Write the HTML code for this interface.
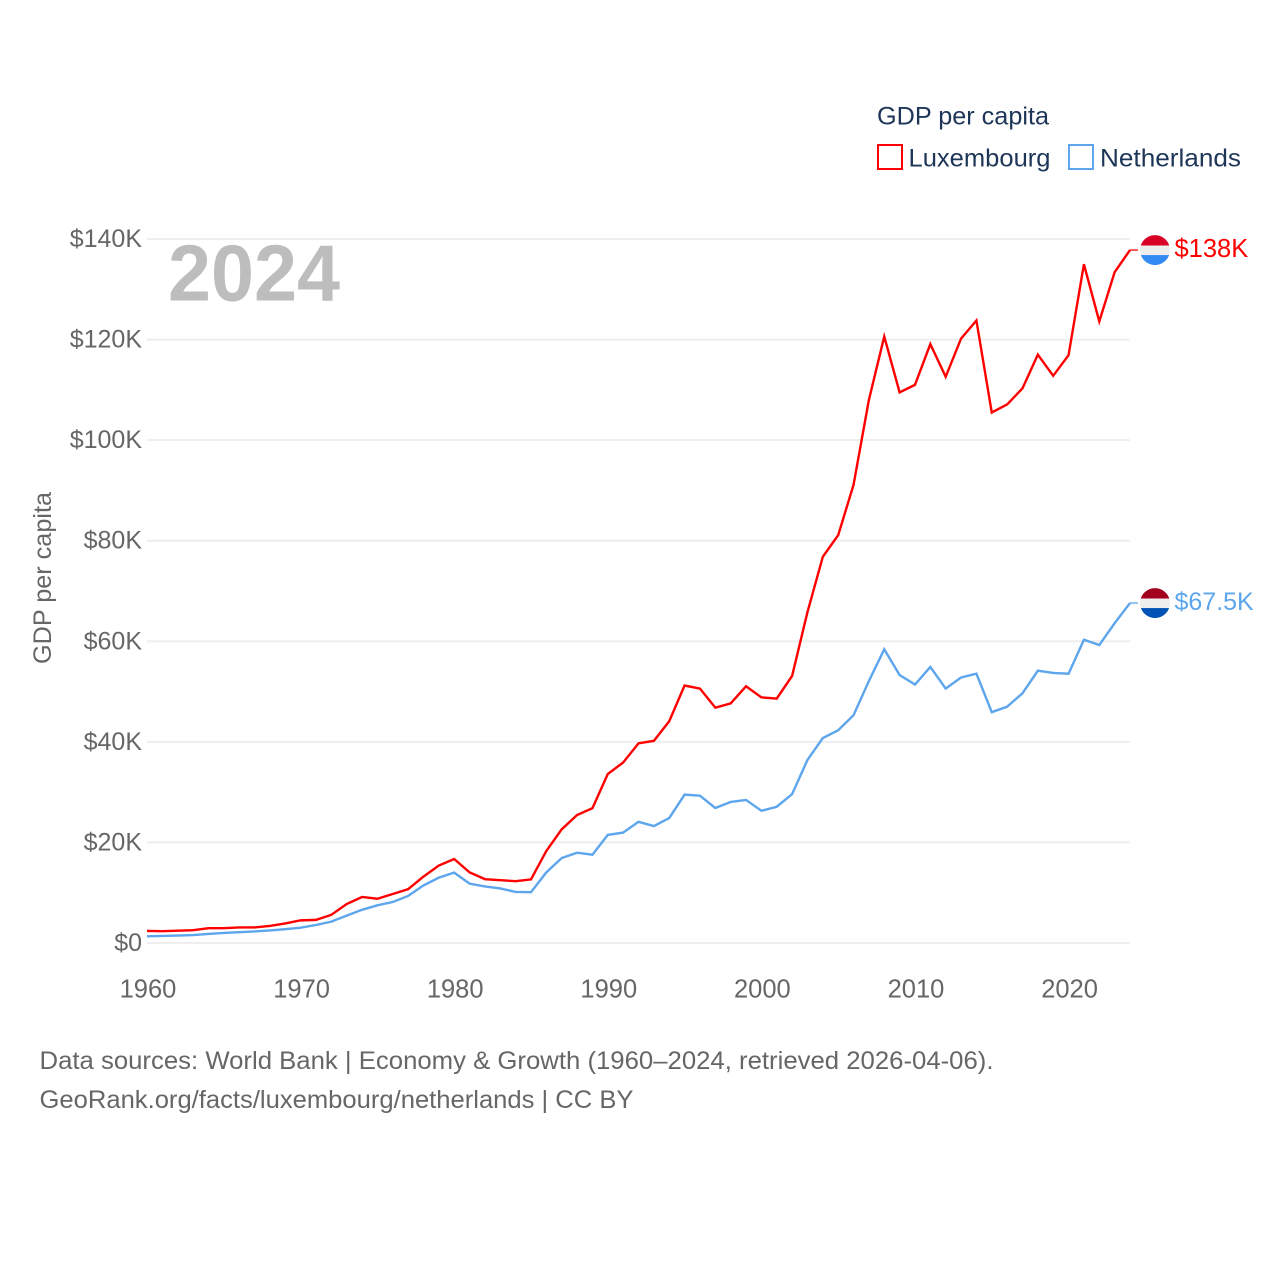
<!DOCTYPE html>
<html lang="en">
<head>
<meta charset="utf-8">
<title>GDP per capita: Luxembourg and Netherlands</title>
<style>
  html, body { margin: 0; padding: 0; background: #ffffff; }
  #chart { display: block; width: 1280px; height: 1280px; font-family: "Liberation Sans", sans-serif; }
  .tick { font-size: 25px; fill: #666666; }
  .xtick { font-size: 25.5px; fill: #666666; }
  .legend { font-size: 25px; fill: #1d3557; }
  .foot { font-size: 25px; fill: #666666; }
</style>
</head>
<body>
<svg id="chart" xmlns="http://www.w3.org/2000/svg" width="1280" height="1280" viewBox="0 0 1280 1280">
  <rect x="0" y="0" width="1280" height="1280" fill="#ffffff"/>
  <defs>
    <clipPath id="flag-clip-lu"><circle id="flag-circle-lu" cx="1155" cy="250" r="15"/></clipPath>
    <clipPath id="flag-clip-nl"><circle id="flag-circle-nl" cx="1155" cy="603" r="15"/></clipPath>
  </defs>
  <g id="grid"></g>
  <g id="y-ticks"></g>
  <g id="x-ticks"></g>
  <text x="168" y="300.5" font-size="80" font-weight="700" fill="#bdbdbd" textLength="172" lengthAdjust="spacingAndGlyphs">2024</text>
  <text class="tick" transform="translate(51,664) rotate(-90)" textLength="172" lengthAdjust="spacingAndGlyphs">GDP per capita</text>
  <g id="series"></g>
  <g id="flags"></g>
  <g>
    <text class="legend" x="877" y="124.5" textLength="172" lengthAdjust="spacingAndGlyphs">GDP per capita</text>
    <rect x="878" y="145" width="24" height="24" fill="none" stroke="#ff0000" stroke-width="2"/>
    <text class="legend" x="908.5" y="166.5" textLength="142" lengthAdjust="spacingAndGlyphs">Luxembourg</text>
    <rect x="1069" y="145" width="24" height="24" fill="none" stroke="#5da5ec" stroke-width="2"/>
    <text class="legend" x="1100" y="166.5" textLength="141" lengthAdjust="spacingAndGlyphs">Netherlands</text>
  </g>
  <text class="foot" x="39.5" y="1069" textLength="954" lengthAdjust="spacingAndGlyphs">Data sources: World Bank | Economy &amp; Growth (1960–2024, retrieved 2026-04-06).</text>
  <text class="foot" x="39.5" y="1108" textLength="594" lengthAdjust="spacingAndGlyphs">GeoRank.org/facts/luxembourg/netherlands | CC BY</text>
</svg>
<script>
const startYear = 1960;
const luxembourgValues = [
  2.4, 2.35, 2.45, 2.55, 2.95, 2.95, 3.1, 3.1, 3.4, 3.9,
  4.5, 4.6, 5.6, 7.75, 9.15, 8.8, 9.74, 10.7, 13.2, 15.4,
  16.7, 14.05, 12.7, 12.5, 12.3, 12.65, 18.3, 22.6, 25.45, 26.8,
  33.6, 35.9, 39.7, 40.2, 44.1, 51.2, 50.6, 46.8, 47.65, 51.05,
  48.85, 48.6, 53.1, 65.8, 76.8, 81.1, 91.1, 108.0, 120.6, 109.5,
  111, 119.1, 112.6, 120.2, 123.8, 105.5, 107.1, 110.3, 117, 112.8,
  116.9, 135, 123.6, 133.4, 137.8
];
const netherlandsValues = [
  1.33, 1.4, 1.48, 1.58, 1.8, 2.0, 2.15, 2.3, 2.5, 2.75,
  3.05, 3.58, 4.25, 5.45, 6.6, 7.5, 8.15, 9.35, 11.45, 13,
  14, 11.8, 11.25, 10.85, 10.15, 10.1, 14.05, 16.9, 17.95, 17.55,
  21.5, 21.95, 24.1, 23.25, 24.85, 29.5, 29.3, 26.85, 28.05, 28.45,
  26.3, 27.1, 29.6, 36.4, 40.75, 42.3, 45.3, 52.1, 58.4, 53.3,
  51.4, 54.9, 50.6, 52.8, 53.55, 45.9, 47, 49.65, 54.15, 53.7,
  53.55, 60.3, 59.25, 63.6, 67.6
];
const yTickValues = [0, 20, 40, 60, 80, 100, 120, 140];
const yTickLabels = ["$0", "$20K", "$40K", "$60K", "$80K", "$100K", "$120K", "$140K"];
const xTickValues = [1960, 1970, 1980, 1990, 2000, 2010, 2020];
const endLabelLuxembourg = "$138K";
const endLabelNetherlands = "$67.5K";

const NS = "http://www.w3.org/2000/svg";
const xScale = function (year) { return 147 + (year - 1960) * (983 / 64); };
const yScale = function (v) { return 943 - v * (704 / 140); };

const grid = document.getElementById("grid");
const yTicks = document.getElementById("y-ticks");
const xTicks = document.getElementById("x-ticks");
const seriesGroup = document.getElementById("series");
const flagsGroup = document.getElementById("flags");

yTickValues.forEach(function (v, i) {
  const line = document.createElementNS(NS, "line");
  line.setAttribute("x1", xScale(1960));
  line.setAttribute("x2", xScale(2024));
  line.setAttribute("y1", yScale(v));
  line.setAttribute("y2", yScale(v));
  line.setAttribute("stroke", "#eeeeee");
  line.setAttribute("stroke-width", "2");
  
  
  grid.appendChild(line);

  const label = document.createElementNS(NS, "text");
  label.setAttribute("x", 142);
  label.setAttribute("y", yScale(v) + 8);
  label.setAttribute("text-anchor", "end");
  label.setAttribute("class", "tick");
  label.textContent = yTickLabels[i];
  
  
  yTicks.appendChild(label);
});

xTickValues.forEach(function (year) {
  const label = document.createElementNS(NS, "text");
  label.setAttribute("x", xScale(year) + 1);
  label.setAttribute("y", 997.5);
  label.setAttribute("text-anchor", "middle");
  label.setAttribute("class", "xtick");
  label.textContent = String(year);
  
  
  xTicks.appendChild(label);
});

function pointsFor(values) {
  return values.map(function (v, i) {
    return xScale(startYear + i).toFixed(2) + "," + yScale(v).toFixed(2);
  }).join(" ");
}

function lastYear(values) { return startYear + values.length - 1; }

const lineLu = document.createElementNS(NS, "polyline");
lineLu.setAttribute("points", pointsFor(luxembourgValues));
lineLu.setAttribute("fill", "none");
lineLu.setAttribute("stroke", "#ff0000");
lineLu.setAttribute("stroke-width", "2.4");
lineLu.setAttribute("stroke-linejoin", "miter");


seriesGroup.appendChild(lineLu);

const lineNl = document.createElementNS(NS, "polyline");
lineNl.setAttribute("points", pointsFor(netherlandsValues));
lineNl.setAttribute("fill", "none");
lineNl.setAttribute("stroke", "#5da5ec");
lineNl.setAttribute("stroke-width", "2.4");
lineNl.setAttribute("stroke-linejoin", "miter");


seriesGroup.appendChild(lineNl);

const stubLu = document.createElementNS(NS, "line");
const luLastX = xScale(lastYear(luxembourgValues));
const luLastY = yScale(luxembourgValues[luxembourgValues.length - 1]);
stubLu.setAttribute("x1", luLastX);
stubLu.setAttribute("x2", luLastX + 8);
stubLu.setAttribute("y1", luLastY);
stubLu.setAttribute("y2", luLastY);
stubLu.setAttribute("stroke", "#ff0000");
stubLu.setAttribute("stroke-width", "2");
stubLu.setAttribute("opacity", "0.65");


seriesGroup.appendChild(stubLu);

const stubNl = document.createElementNS(NS, "line");
const nlLastX = xScale(lastYear(netherlandsValues));
const nlLastY = yScale(netherlandsValues[netherlandsValues.length - 1]);
stubNl.setAttribute("x1", nlLastX);
stubNl.setAttribute("x2", nlLastX + 8);
stubNl.setAttribute("y1", nlLastY);
stubNl.setAttribute("y2", nlLastY);
stubNl.setAttribute("stroke", "#5da5ec");
stubNl.setAttribute("stroke-width", "2");
stubNl.setAttribute("opacity", "0.65");


seriesGroup.appendChild(stubNl);

function addStripe(parent, clipId, cy, offset, h, color) {
  const r = document.createElementNS(NS, "rect");
  r.setAttribute("x", 1140);
  r.setAttribute("y", cy + offset);
  r.setAttribute("width", 30);
  r.setAttribute("height", h);
  r.setAttribute("fill", color);
  r.setAttribute("clip-path", "url(#" + clipId + ")");
  
  
  parent.appendChild(r);
}

const flagLu = document.createElementNS(NS, "g");


flagsGroup.appendChild(flagLu);
document.getElementById("flag-circle-lu").setAttribute("cy", luLastY);
addStripe(flagLu, "flag-clip-lu", luLastY, -15, 10.5, "#d80027");
addStripe(flagLu, "flag-clip-lu", luLastY, -4.5, 9.5, "#eeeeee");
addStripe(flagLu, "flag-clip-lu", luLastY, 5, 10, "#338af3");

const flagNl = document.createElementNS(NS, "g");


flagsGroup.appendChild(flagNl);
document.getElementById("flag-circle-nl").setAttribute("cy", nlLastY);
addStripe(flagNl, "flag-clip-nl", nlLastY, -15, 10.5, "#a2001d");
addStripe(flagNl, "flag-clip-nl", nlLastY, -4.5, 9.5, "#eeeeee");
addStripe(flagNl, "flag-clip-nl", nlLastY, 5, 10, "#0052b4");

const endLu = document.createElementNS(NS, "text");
endLu.setAttribute("x", 1174.5);
endLu.setAttribute("y", luLastY + 7);
endLu.setAttribute("font-size", "25.5");
endLu.setAttribute("fill", "#ff0000");
endLu.textContent = endLabelLuxembourg;


flagsGroup.appendChild(endLu);

const endNl = document.createElementNS(NS, "text");
endNl.setAttribute("x", 1174.5);
endNl.setAttribute("y", nlLastY + 7);
endNl.setAttribute("font-size", "25");
endNl.setAttribute("fill", "#5da5ec");
endNl.textContent = endLabelNetherlands;


flagsGroup.appendChild(endNl);
</script>
</body>
</html>
